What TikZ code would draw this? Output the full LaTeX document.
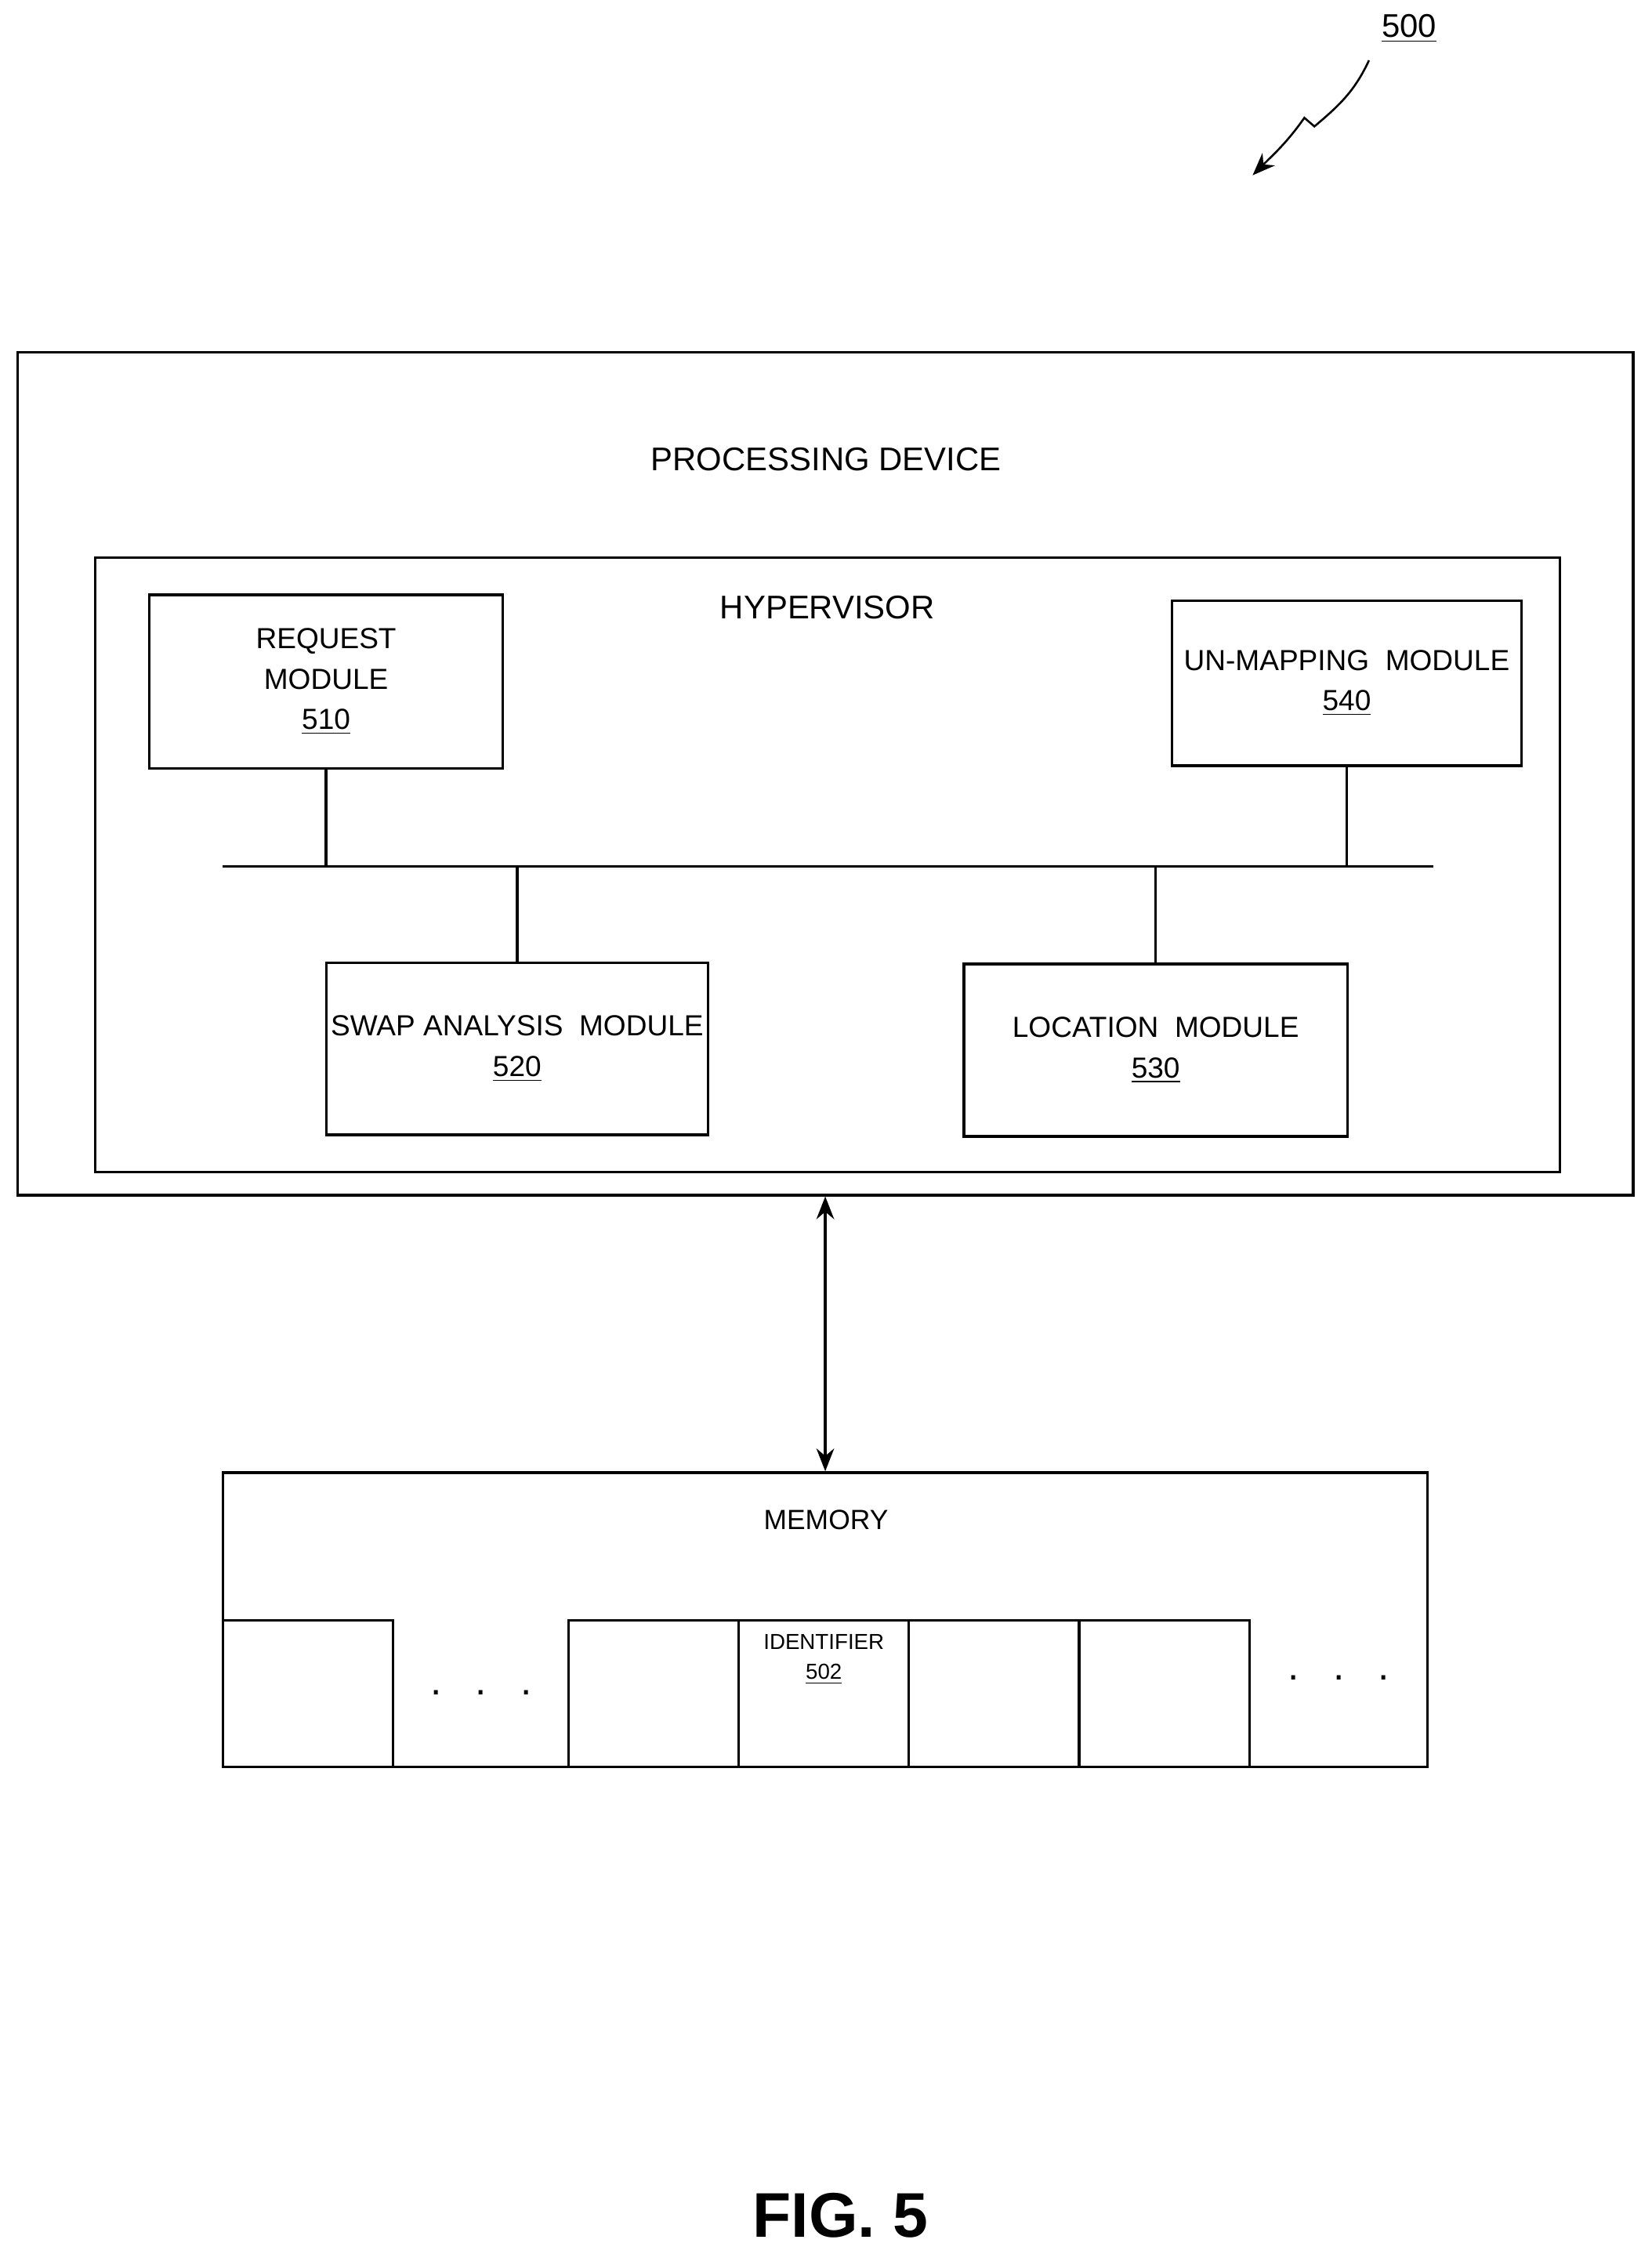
\documentclass[tikz,border=0pt]{standalone}
\usepackage{fontspec}
\setmainfont{Liberation Sans}
\usetikzlibrary{arrows.meta}
\begin{document}
\begin{tikzpicture}[x=0.02cm, y=-0.02cm, line width=1pt, >={Stealth[length=9pt,width=7pt]},
	box/.style={draw, rectangle, align=center, font=\fontsize{11.5}{16}\selectfont, inner sep=0pt},
	cell/.style={draw, rectangle, minimum width=2.37cm, minimum height=2.04cm, inner sep=0pt},
	title/.style={font=\fontsize{13}{15}\selectfont}]
	\useasboundingbox (0,0) rectangle (1150,1569);
	\node[box, minimum width=22.5cm, minimum height=11.74cm] (proc) at (574.5,538.5) {};
	\node[title] (proct) at (575,320) {PROCESSING DEVICE};
	\node[box, minimum width=20.4cm, minimum height=8.56cm] (hyp) at (576,602) {};
	\node[title] (hypt) at (576,423) {HYPERVISOR};
	\node[box, minimum width=4.92cm, minimum height=2.42cm] (req) at (227,474.5) {REQUEST\\MODULE\\\underline{510}};
	\node[box, minimum width=4.86cm, minimum height=2.3cm] (unmap) at (937.5,475.5) {UN-MAPPING\ \ MODULE\\\underline{540}};
	\node[box, minimum width=5.32cm, minimum height=2.4cm] (swap) at (360,730) {SWAP ANALYSIS\ \ MODULE\\\underline{520}};
	\node[box, minimum width=5.34cm, minimum height=2.4cm] (loc) at (804.5,731) {LOCATION\ \ MODULE\\\underline{530}};

	% bus
	\coordinate (busL) at (155,603);
	\coordinate (busR) at (998,603);
	\draw (busL) -- (busR);
	\draw (req.south) -- (req.south |- busL);
	\draw (unmap.south) -- (unmap.south |- busL);
	\draw (swap.north) -- (swap.north |- busL);
	\draw (loc.north) -- (loc.north |- busL);

	% memory
	\node[box, minimum width=16.78cm, minimum height=4.1cm] (mem) at (574.5,1127.5) {};
	\node[title, font=\fontsize{11}{13}\selectfont] (memt) at (575,1058) {MEMORY};
	\draw[<->] (proc.south -| mem.north) -- (mem.north);
	\node[cell] (c1) at (214.5,1179) {};
	\node[cell] (c3) at (455,1179) {};
	\node[cell] (c4) at (573.5,1179) {};
	\node[cell] (c5) at (692,1179) {};
	\node[cell] (c6) at (810.5,1179) {};
	\node[font=\fontsize{16}{18}\selectfont] (dots1) at (335,1178) {.\ \ \ .\ \ \ .};
	\node[font=\fontsize{16}{18}\selectfont] (dots2) at (932,1168) {.\ \ \ .\ \ \ .};
	\node[align=center, font=\fontsize{8.6}{12}\selectfont] (ident) at (573.5,1155) {IDENTIFIER\\\underline{502}};

	% reference label
	\node[title] (ref) at (981,20) {\underline{500}};
	\coordinate (sqA) at (953,42);
	\coordinate (sqB) at (872,122);
	\draw[->, line width=0.8pt] (sqA) to[out=-115,in=40] (915,88) -- (908,82) to[out=-125,in=45] (sqB);

	\node[font=\fontsize{25}{28}\bfseries\selectfont] (fig) at (585,1542) {FIG. 5};
\end{tikzpicture}
\end{document}
